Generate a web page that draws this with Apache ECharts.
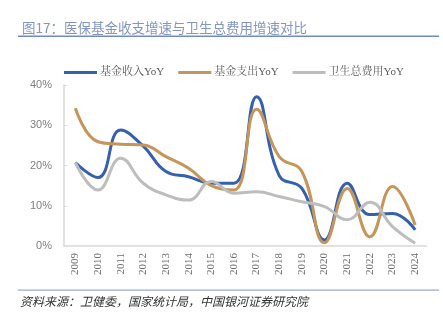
<!DOCTYPE html>
<html>
<head>
<meta charset="utf-8">
<script src="https://cdn.jsdelivr.net/npm/echarts@6/dist/echarts.min.js"></script>
<style>
html,body{margin:0;padding:0;background:#fff;}
#c{width:443px;height:323px;}
</style>
</head>
<body>
<div id="c"></div>
<script>
var years = ['2009','2010','2011','2012','2013','2014','2015','2016','2017','2018','2019','2020','2021','2022','2023','2024'];
var fundIncome = [20.7, 17.0, 28.8, 24.8, 18.5, 17.2, 15.6, 15.6, 37.1, 17.5, 14.3, 1.5, 15.6, 7.8, 8.1, 4.0];
var fundExpense = [34.2, 25.9, 25.3, 25.1, 22.2, 19.3, 15.0, 13.9, 34.0, 22.2, 18.5, 0.8, 14.3, 2.3, 14.8, 5.2];
var healthTotal = [20.7, 13.9, 21.8, 15.6, 12.7, 11.4, 16.0, 13.1, 13.5, 12.3, 11.0, 9.8, 6.5, 10.9, 4.8, 0.7];
var yTicks = ['0%','10%','20%','30%','40%'];

var chart = echarts.init(document.getElementById('c'), null, {renderer:'canvas'});
var serif = '"Liberation Serif","Noto Serif CJK SC","Noto Sans CJK SC",serif';
var sans = '"Liberation Sans","Noto Sans CJK SC",sans-serif';
function mk(name, data, color){
  return {
    name: name, type: 'line', data: data, smooth: 0.45,
    symbol: 'none', lineStyle: {width: 3, color: color}, itemStyle: {color: color}
  };
}
chart.setOption({
  animation: false,
  title: {
    text: '图17：医保基金收支增速与卫生总费用增速对比',
    left: 17, top: 16,
    textStyle: {color: '#8396c2', fontSize: 13.5, fontWeight: 'normal', fontFamily: '"Noto Sans CJK SC",sans-serif'}
  },
  graphic: [
    {type: 'rect', shape: {x: 18, y: 35.5, width: 421, height: 1.5}, style: {fill: '#6f8bc2'}},
    {type: 'rect', shape: {x: 18, y: 289.5, width: 421, height: 1.2}, style: {fill: '#9aabd0'}},
    {type: 'text', left: 20, top: 295, style: {text: '资料来源：卫健委，国家统计局，中国银河证券研究院', fill: '#333', font: 'italic 12px "Noto Sans CJK SC",sans-serif'}}
  ],
  legend: {
    top: 62, left: 59,
    itemWidth: 33, itemHeight: 3, itemGap: 14,
    icon: 'rect',
    textStyle: {color: '#595959', fontSize: 11, fontFamily: serif, padding: [0,0,0,-2]},
    data: ['基金收入YoY','基金支出YoY','卫生总费用YoY']
  },
  grid: {left: 64, right: 16.5, top: 85, bottom: 323-246, containLabel: false},
  xAxis: {
    type: 'category', data: years, boundaryGap: true,
    axisLine: {lineStyle: {color: '#d9d9d9', width: 1.5}},
    axisTick: {show: false},
    axisLabel: {rotate: 90, color: '#6b6b6b', fontSize: 11, fontFamily: serif, margin: 7, interval: 0}
  },
  yAxis: {
    type: 'value', min: 0, max: 40, interval: 10,
    axisLine: {show: true, lineStyle: {color: '#d9d9d9', width: 1.5}},
    axisTick: {show: true, inside: true, length: 3, lineStyle: {color: '#d9d9d9'}},
    splitLine: {show: false},
    axisLabel: {color: '#7f7f7f', fontSize: 11, fontFamily: sans, margin: 12,
      formatter: function(v){ return yTicks[Math.round(v/10)]; }}
  },
  series: [
    mk('基金收入YoY', fundIncome, '#3560ad'),
    mk('基金支出YoY', fundExpense, '#c6955a'),
    mk('卫生总费用YoY', healthTotal, '#bdbdbd')
  ]
});
</script>
</body>
</html>
